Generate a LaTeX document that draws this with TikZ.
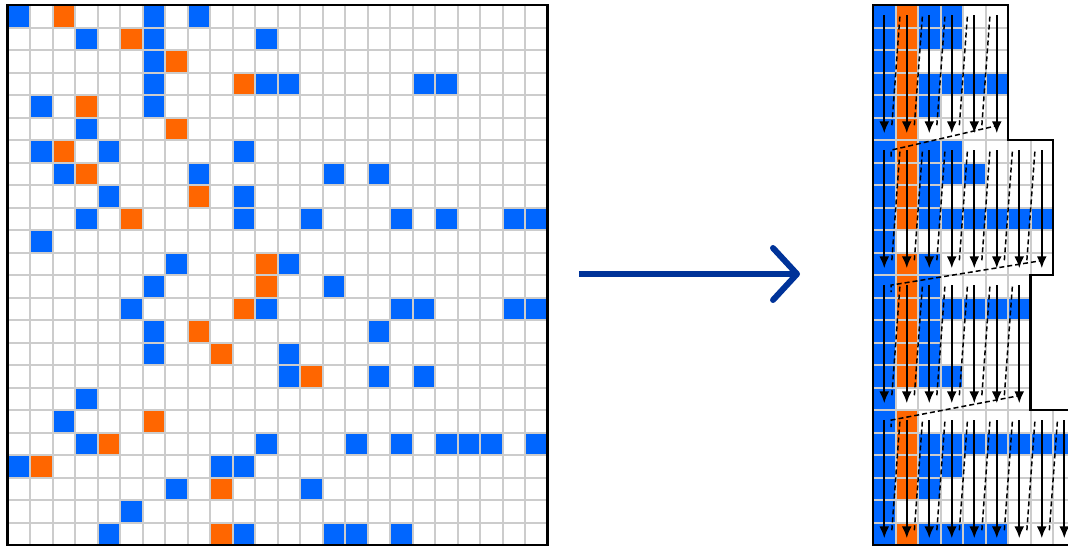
\documentclass[tikz,border=0pt]{standalone}
\usepackage{tikz}
\usetikzlibrary{arrows.meta}
\tikzset{>={Latex[width=5pt,length=6pt]}}
\definecolor{nzb}{HTML}{0066FF}
\definecolor{nzo}{HTML}{FF6600}
\definecolor{gridgray}{HTML}{CCCCCC}
\definecolor{arrowblue}{HTML}{003399}

\begin{document}
\begin{tikzpicture}[x=11.25pt,y=-11.25pt,
    cell/.style={draw=gridgray,line width=1pt},
    frame/.style={draw=black,line width=1.2pt},
    colarrow/.style={->,line width=1pt},
    jump/.style={dash pattern=on 2.5pt off 1.5pt,line width=0.75pt},
    bigarrow/.style={-{Straight Barb[length=12pt,width=26pt,round]},arrowblue,line width=3pt}]
  % Define variables
  \pgfmathsetmacro{\xL}{7.5/22.5}  % left edge of the matrix
  \pgfmathsetmacro{\xR}{873/22.5}  % left edge of the sliced storage
  \pgfmathsetmacro{\yT}{5/22.5}    % top edge of both
  \def\widths{6,8,7,9}             % width of each slice of 6 rows
  % nonzeros of each row: column/kind
  \def\rows{{0/b,2/o,6/b,8/b},{3/b,5/o,6/b,11/b},{6/b,7/o},
    {6/b,10/o,11/b,12/b,18/b,19/b},{1/b,3/o,6/b},{3/b,7/o},
    {1/b,2/o,4/b,10/b},{2/b,3/o,8/b,14/b,16/b},{4/b,8/o,10/b},
    {3/b,5/o,10/b,13/b,17/b,19/b,22/b,23/b},{1/b},{7/b,11/o,12/b},
    {6/b,11/o,14/b},{5/b,10/o,11/b,17/b,18/b,22/b,23/b},{6/b,8/o,16/b},
    {6/b,9/o,12/b},{12/b,13/o,16/b,18/b},{3/b},
    {2/b,6/o},{3/b,4/o,11/b,15/b,17/b,19/b,20/b,21/b,23/b},{0/b,1/o,9/b,10/b},
    {7/b,9/o,13/b},{5/b},{4/b,9/o,10/b,14/b,15/b,17/b}}

  \useasboundingbox (0,0) rectangle (1068/22.5,547/22.5);
  \clip (0,0) rectangle (1068/22.5,547/22.5);

  % Empty cells of the matrix
  \foreach \i in {0,...,23} {
    \foreach \j in {0,...,23} {
      \draw[cell,fill=white] ({\xL+\i},{\yT+\j}) rectangle ++(1,1); } }

  % Empty cells of the slices
  \begin{scope}[shift={(\xR,\yT)}]
  \foreach \w [count=\ch from 0] in \widths {
    \foreach \i in {1,...,\w} {
      \foreach \j in {0,...,5} {
        \draw[cell,fill=white] (\i-1,{6*\ch+\j}) rectangle ++(1,1); } } }
  \end{scope}

  % Nonzeros, in the matrix and packed to the left
  \foreach \entries [count=\row from 0] in \rows {
    \foreach \col/\kind [count=\pos from 0] in \entries {
      \draw[cell,fill=nz\kind] ({\xL+\col},{\yT+\row}) rectangle ++(1,1);
      \draw[cell,fill=nz\kind] ({\xR+\pos},{\yT+\row}) rectangle ++(1,1); } }

  \draw[frame] (\xL,\yT) rectangle ++(24,24);

  \begin{scope}[shift={(\xR,\yT)}]
  \draw[frame] (0,0) -- (6,0) -- (6,6) -- (8,6) -- (8,12) -- (7,12) -- (7,18)
    -- (9,18) -- (9,24) -- (0,24) -- cycle;

  % Column order inside each slice
  \foreach \w [count=\ch from 0] in \widths {
    \pgfmathsetmacro{\ytop}{6*\ch+0.45}
    \pgfmathsetmacro{\ybot}{6*\ch+5.7}
    \foreach \i [remember=\i as \prev (initially 0)] in {1,...,\w} {
      \coordinate (top-\ch-\i) at (\i-0.5,\ytop);
      \coordinate (bot-\ch-\i) at (\i-0.5,\ybot);
      \ifnum\i>1
        \draw[jump] ([shift={(3.8pt,4pt)}]bot-\ch-\prev) -- ([xshift=-3.4pt]top-\ch-\i);
      \fi
      \draw[colarrow] (top-\ch-\i) -- (bot-\ch-\i); } }

  % Jump to the next slice
  \foreach \ch/\w/\nx in {0/6/1,1/8/2,2/7/3} {
    \draw[jump] ([shift={(1pt,4pt)}]bot-\ch-\w) -- ([xshift=3.4pt]top-\nx-1)
      -- ([shift={(3.4pt,-3.5pt)}]top-\nx-1); }
  \end{scope}

  \coordinate (gridE) at ({\xL+24},{\yT+12});
  \coordinate (sellW) at (\xR,{\yT+12});
  \draw[bigarrow] ([shift={(15.75pt,0.5pt)}]gridE) -- ([shift={(-36.5pt,0.5pt)}]sellW);
\end{tikzpicture}
\end{document}
